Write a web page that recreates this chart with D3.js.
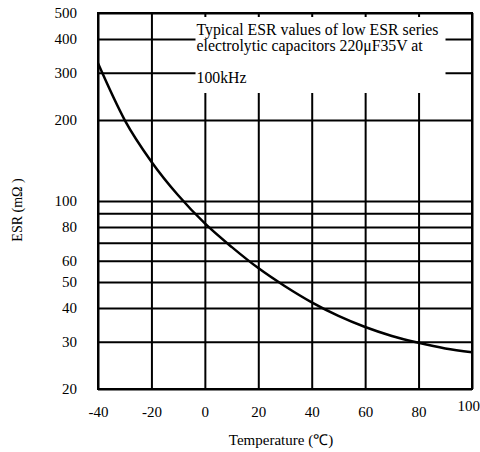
<!DOCTYPE html>
<html>
<head>
<meta charset="utf-8">
<script src="https://cdn.jsdelivr.net/npm/d3@7"></script>
<style>
  body { margin: 0; background: #fff; }
  svg { display: block; font-family: "Liberation Serif", "Times New Roman", serif; }
  .grid line { stroke: #000; stroke-width: 2; }
  .grid path { display: none; }
  .lbl path, .lbl line { display: none; }
  .lbl text { font-size: 15px; fill: #000; font-family: "Liberation Serif", serif; }
</style>
</head>
<body>
<div class="chart"></div>
<script>
// temperature (°C) vs ESR (mOhm)
var temps = [-40, -30, -20, -10, 0, 10, 20, 30, 40, 50, 60, 70, 80, 90, 100];
var esr = [325, 200, 140, 105, 82.5, 67.5, 56.3, 48.2, 42, 37.4, 34, 31.5, 29.7, 28.3, 27.4];

var xTicks = [-40, -20, 0, 20, 40, 60, 80, 100];
var yGrid = [20, 30, 40, 50, 60, 70, 80, 90, 100, 200, 300, 400, 500];
var yLabels = [20, 30, 40, 50, 60, 80, 100, 200, 300, 400, 500];
var noteLines = ["Typical ESR values of low ESR series", "electrolytic capacitors 220\u03bcF35V at", "100kHz"];

var W = 480, H = 452;
var margin = {top: 13, right: 8, bottom: 63, left: 98};
var width = W - margin.left - margin.right,
    height = H - margin.top - margin.bottom;

var svg = d3.select(".chart").append("svg")
    .attr("width", W)
    .attr("height", H);

var g = svg.append("g")
    .attr("transform", "translate(" + margin.left + "," + margin.top + ")");

var x = d3.scaleLinear().domain([-40, 100]).range([0, width]);
var y = d3.scaleLog().domain([20, 500]).range([height, 0]);

// grid lines
g.append("g")
    .attr("class", "grid")
    .call(d3.axisLeft(y).tickValues(yGrid).tickSize(-width).tickFormat(""));
g.append("g")
    .attr("class", "grid")
    .attr("transform", "translate(0," + height + ")")
    .call(d3.axisBottom(x).tickValues(xTicks).tickSize(height).tickFormat(""))
    .selectAll("line").attr("y2", -height);

// frame
g.append("rect")
    .attr("width", width)
    .attr("height", height)
    .attr("fill", "none")
    .attr("stroke", "#000")
    .attr("stroke-width", 2);

// tick labels
g.append("g")
    .attr("class", "lbl")
    .attr("transform", "translate(-18,0)")
    .call(d3.axisLeft(y).tickValues(yLabels).tickSize(0).tickFormat(function(d) { return String(d); }));

var xl = g.append("g")
    .attr("class", "lbl")
    .attr("transform", "translate(0," + (height + 14) + ")")
    .call(d3.axisBottom(x).tickValues(xTicks).tickSize(0).tickFormat(function(d) { return String(d); }));
// last label sits against the right edge, a little higher
xl.selectAll(".tick").filter(function(d) { return d === 100; }).select("text")
    .attr("text-anchor", "start")
    .attr("x", -15)
    .attr("y", -3);

// curve
var line = d3.line()
    .x(function(d, i) { return x(temps[i]); })
    .y(function(d) { return y(d); })
    .curve(d3.curveMonotoneX);

g.append("path")
    .datum(esr)
    .attr("fill", "none")
    .attr("stroke", "#000")
    .attr("stroke-width", 2.5)
    .attr("d", line);

// note box
var note = g.append("g").attr("transform", "translate(" + (x(-3.5)) + ",4)");
note.append("rect")
    .attr("width", 250)
    .attr("height", 76)
    .attr("fill", "#fff");
note.selectAll("text")
    .data(noteLines)
    .enter().append("text")
    .attr("x", 1)
    .attr("y", function(d, i) { return [18, 34, 66][i]; })
    .style("font-size", "15.8px")
    .text(function(d) { return d; });

// axis titles
svg.append("text")
    .attr("transform", "translate(22,210) rotate(-90)")
    .attr("text-anchor", "middle")
    .style("font-size", "14px")
    .text("ESR (m\u03a9 )");

svg.append("text")
    .attr("x", 281)
    .attr("y", 445)
    .attr("text-anchor", "middle")
    .style("font-size", "15px")
    .text("Temperature (\u2103)");
</script>
</body>
</html>
